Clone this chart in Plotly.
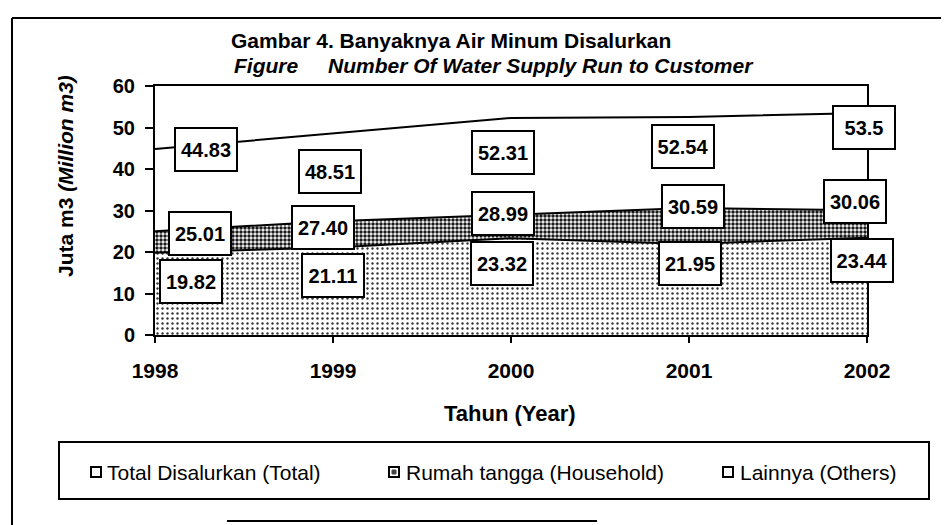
import plotly.graph_objects as go

# ---------------- data ----------------
years = [1998, 1999, 2000, 2001, 2002]
total = [44.83, 48.51, 52.31, 52.54, 53.5]
household = [25.01, 27.40, 28.99, 30.59, 30.06]
others = [19.82, 21.11, 23.32, 21.95, 23.44]

title_line1 = "Gambar 4. Banyaknya Air Minum Disalurkan"
title_fig = "Figure"
title_line2 = "Number Of Water Supply Run to Customer"
y_title = "Juta m3 <i>(Million m3)</i>"
x_title = "Tahun (Year)"
legend_names = ["Total Disalurkan (Total)", "Rumah tangga (Household)", "Lainnya (Others)"]

# ---------------- layout helpers ----------------
# the page body has an 8px margin, so the figure is shrunk and shifted
OFF = 8
W, H = 949 - OFF, 525 - OFF
L, R, T, B = 155 - OFF, 82, 86 - OFF, 190
PW, PH = W - L - R, H - T - B
FONT = "Liberation Sans, Arial, sans-serif"


def px(x):
    """reference-screen x -> paper x"""
    return (x - OFF - L) / PW


def py(y):
    """reference-screen y -> paper y"""
    return (H - B - (y - OFF)) / PH


# label offsets in screen pixels (dx, dy downwards), per series
total_off = [(51, 1), (-3, 38), (-8, 35), (-6, 30), (-3, 15)]
house_off = [(45, 2), (-10, 6), (-8, -1), (4, -2), (-12, -9)]
other_off = [(36, 29), (0, 28), (-9, 25), (1, 20), (-5, 23)]

fig = go.Figure()

fig.add_trace(go.Scatter(
    x=years, y=total, mode="lines", fill="tozeroy",
    fillcolor="white", line=dict(color="black", width=2),
    name=legend_names[0], showlegend=False, hoverinfo="skip"))

fig.add_trace(go.Scatter(
    x=years, y=household, mode="lines", fill="tozeroy",
    line=dict(color="black", width=2),
    fillpattern=dict(shape=".", fgcolor="#1a1a1a", bgcolor="#ffffff",
                     size=4, solidity=0.6, fillmode="replace"),
    name=legend_names[1], showlegend=False, hoverinfo="skip"))

fig.add_trace(go.Scatter(
    x=years, y=others, mode="lines", fill="tozeroy",
    line=dict(color="black", width=2),
    fillpattern=dict(shape=".", fgcolor="#333333", bgcolor="#ffffff",
                     size=5, solidity=0.18, fillmode="replace"),
    name=legend_names[2], showlegend=False, hoverinfo="skip"))

annotations = []


def add_labels(values, offs, fmt):
    for xv, v, (dx, dy) in zip(years, values, offs):
        annotations.append(dict(
            x=xv, y=v, xref="x", yref="y", text=fmt(v), showarrow=False,
            xshift=dx, yshift=-dy, width=56, height=37,
            bgcolor="white", bordercolor="black", borderwidth=2, borderpad=2,
            font=dict(family=FONT, size=20, color="black", weight="bold")))


add_labels(total, total_off, lambda v: f"{v:g}")
add_labels(household, house_off, lambda v: f"{v:.2f}")
add_labels(others, other_off, lambda v: f"{v:.2f}")

# titles
annotations.append(dict(x=px(229), y=py(41), xref="paper", yref="paper",
                        xanchor="left", yanchor="middle", showarrow=False,
                        text=title_line1,
                        font=dict(family=FONT, size=21, color="black", weight="bold")))
annotations.append(dict(x=px(232), y=py(65), xref="paper", yref="paper",
                        xanchor="left", yanchor="middle", showarrow=False,
                        text=f"<i>{title_fig}</i>",
                        font=dict(family=FONT, size=21, color="black", weight="bold")))
annotations.append(dict(x=px(326), y=py(65), xref="paper", yref="paper",
                        xanchor="left", yanchor="middle", showarrow=False,
                        text=f"<i>{title_line2}</i>",
                        font=dict(family=FONT, size=21, color="black", weight="bold")))
# axis titles
annotations.append(dict(x=px(65), y=py(176), xref="paper", yref="paper",
                        xanchor="center", yanchor="middle", showarrow=False,
                        textangle=-90, text=y_title,
                        font=dict(family=FONT, size=21, color="black", weight="bold")))
annotations.append(dict(x=px(510), y=py(413), xref="paper", yref="paper",
                        xanchor="center", yanchor="middle", showarrow=False,
                        text=x_title,
                        font=dict(family=FONT, size=22, color="black", weight="bold")))

# legend texts
leg_sq_x = [91, 389, 723]
leg_tx_x = [105, 404, 738]
for name, tx in zip(legend_names, leg_tx_x):
    annotations.append(dict(x=px(tx), y=py(472), xref="paper", yref="paper",
                            xanchor="left", yanchor="middle", showarrow=False,
                            text=name,
                            font=dict(family=FONT, size=21, color="black")))

shapes = []
# outer frame fragments
shapes.append(dict(type="line", xref="paper", yref="paper",
                   x0=px(12), x1=px(12), y0=py(18), y1=py(525),
                   line=dict(color="black", width=2)))
shapes.append(dict(type="line", xref="paper", yref="paper",
                   x0=px(12), x1=px(949), y0=py(18), y1=py(18),
                   line=dict(color="black", width=2)))
shapes.append(dict(type="line", xref="paper", yref="paper",
                   x0=px(227), x1=px(597), y0=py(521), y1=py(521),
                   line=dict(color="black", width=2)))
# legend box
shapes.append(dict(type="rect", xref="paper", yref="paper",
                   x0=px(59), x1=px(929), y0=py(442), y1=py(499),
                   line=dict(color="black", width=2), fillcolor="rgba(0,0,0,0)"))
for i, sx in enumerate(leg_sq_x):
    shapes.append(dict(type="rect", xref="paper", yref="paper",
                       x0=px(sx), x1=px(sx + 10), y0=py(467), y1=py(477),
                       line=dict(color="black", width=2), fillcolor="white"))
    if i == 1:
        shapes.append(dict(type="rect", xref="paper", yref="paper",
                           x0=px(sx + 3), x1=px(sx + 7), y0=py(470), y1=py(474),
                           line=dict(color="#444", width=1), fillcolor="#444"))

fig.update_layout(
    width=W, height=H,
    margin=dict(l=L, r=R, t=T, b=B, pad=0),
    paper_bgcolor="white", plot_bgcolor="white",
    showlegend=False,
    annotations=annotations, shapes=shapes,
    font=dict(family=FONT, color="black"),
    xaxis=dict(range=[1998, 2002], tickvals=years, ticktext=[str(y) for y in years],
               showgrid=False, zeroline=False, showline=True, linecolor="black",
               linewidth=2, mirror=True, ticks="outside", ticklen=6, tickwidth=1.5,
               tickcolor="black", ticklabelstandoff=10,
               tickfont=dict(family=FONT, size=21, color="black", weight="bold")),
    yaxis=dict(range=[0, 60], tickvals=[0, 10, 20, 30, 40, 50, 60],
               showgrid=False, zeroline=False, showline=True, linecolor="black",
               linewidth=2, mirror=True, ticks="outside", ticklen=8, tickwidth=1.5,
               tickcolor="black", ticklabelstandoff=6,
               tickfont=dict(family=FONT, size=20, color="black", weight="bold")),
)

fig.write_html("out.html")
